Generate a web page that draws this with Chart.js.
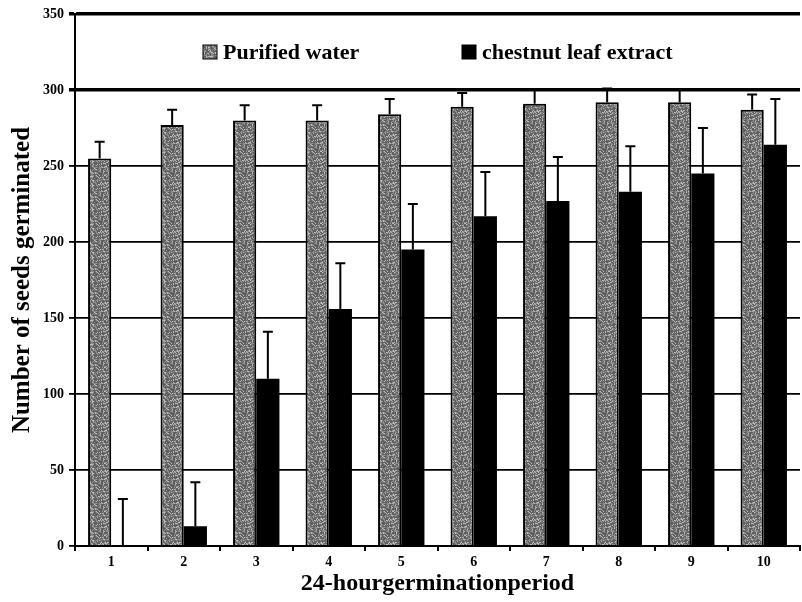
<!DOCTYPE html>
<html>
<head>
<meta charset="utf-8">
<script src="https://cdn.jsdelivr.net/npm/chart.js@4.4.1/dist/chart.umd.min.js"></script>
<style>
  html, body { margin: 0; padding: 0; background: #fff; }
  #wrap { width: 802px; height: 602px; position: relative; }
</style>
</head>
<body>
<div id="wrap"><canvas id="myChart"></canvas></div>
<script>
// data
const periods = ['1', '2', '3', '4', '5', '6', '7', '8', '9', '10'];
const waterValues = [255, 277, 280, 280, 284, 289, 291, 292, 292, 287];
const waterErrors = [11, 10, 10, 10, 10, 9, 9, 9, 8, 10];
const extractValues = [0, 13, 110, 156, 195, 217, 227, 233, 245, 264];
const extractErrors = [31, 29, 31, 30, 30, 29, 29, 30, 30, 30];
const seriesNames = ['Purified water', 'chestnut leaf extract'];
const yTicks = [0, 50, 100, 150, 200, 250, 300, 350];

const serif = "'Liberation Serif', 'Times New Roman', serif";

// speckled gray fill like the printed bars (fixed hash, not data)
function makeSpeckle() {
    const c = document.createElement('canvas');
    c.width = 24; c.height = 24;
    const g = c.getContext('2d');
    const img = g.createImageData(24, 24);
    for (let i = 0; i < 576; i++) {
        const h = Math.abs(Math.sin(i * 12.9898 + 78.233) * 43758.5453) % 1;
        const v = h < 0.5 ? 95 : (h < 0.82 ? 140 : 190);
        img.data[i * 4] = v;
        img.data[i * 4 + 1] = v;
        img.data[i * 4 + 2] = v;
        img.data[i * 4 + 3] = 255;
    }
    g.putImageData(img, 0, 0);
    return g.createPattern(c, 'repeat');
}

const ctx = document.getElementById('myChart').getContext('2d');
const speckle = makeSpeckle();
const errorSets = [waterErrors, extractErrors];

// upward-only error bars
const errorBars = {
    id: 'errorBars',
    afterDatasetsDraw(chart) {
        const c = chart.ctx;
        const y = chart.scales.y;
        c.save();
        c.strokeStyle = '#000';
        c.lineWidth = 2;
        chart.data.datasets.forEach((ds, di) => {
            const meta = chart.getDatasetMeta(di);
            meta.data.forEach((bar, i) => {
                const top = y.getPixelForValue(ds.data[i] + errorSets[di][i]);
                c.beginPath();
                c.moveTo(bar.x, bar.y);
                c.lineTo(bar.x, top);
                c.moveTo(bar.x - 5, top);
                c.lineTo(bar.x + 5, top);
                c.stroke();
            });
        });
        c.restore();
    }
};

// legend sitting in the 300-350 band
const bandLegend = {
    id: 'bandLegend',
    afterDraw(chart) {
        const c = chart.ctx;
        const area = chart.chartArea;
        const yc = chart.scales.y.getPixelForValue(325);
        const items = [
            { x: area.left + 128, fill: speckle, label: seriesNames[0] },
            { x: area.left + 387, fill: '#000', label: seriesNames[1] }
        ];
        c.save();
        c.font = 'bold 22px ' + serif;
        c.textBaseline = 'middle';
        items.forEach(it => {
            c.fillStyle = it.fill;
            c.fillRect(it.x, yc - 7, 14, 14);
            c.strokeStyle = '#000';
            c.lineWidth = 1;
            c.strokeRect(it.x, yc - 7, 14, 14);
            c.fillStyle = '#000';
            c.fillText(it.label, it.x + 20, yc + 1);
        });
        c.restore();
    }
};

new Chart(ctx, {
    type: 'bar',
    data: {
        labels: periods,
        datasets: [
            {
                label: seriesNames[0],
                data: waterValues,
                backgroundColor: speckle,
                borderColor: '#000',
                borderWidth: 2,
                borderSkipped: 'bottom',
                categoryPercentage: 0.64,
                barPercentage: 1
            },
            {
                label: seriesNames[1],
                data: extractValues,
                backgroundColor: '#000',
                borderColor: '#000',
                borderWidth: 0,
                categoryPercentage: 0.64,
                barPercentage: 1
            }
        ]
    },
    options: {
        responsive: true,
        maintainAspectRatio: false,
        animation: false,
        layout: { padding: { top: 14, right: 2, left: 0, bottom: 0 } },
        plugins: {
            legend: { display: false },
            tooltip: { enabled: false }
        },
        scales: {
            x: {
                offset: true,
                grid: {
                    offset: true,
                    drawOnChartArea: false,
                    drawTicks: true,
                    tickLength: 5,
                    color: '#000',
                    lineWidth: 2
                },
                border: { color: '#000', width: 2 },
                ticks: {
                    color: '#000',
                    font: { family: serif, size: 14, weight: 'bold' },
                    padding: 3
                },
                title: {
                    display: true,
                    text: '24-hourgerminationperiod',
                    color: '#000',
                    font: { family: serif, size: 24, weight: 'bold' },
                    padding: { top: 0, bottom: 4 }
                },
                afterFit(scale) { scale.height = 56; }
            },
            y: {
                min: 0,
                max: 350,
                afterBuildTicks(scale) { scale.ticks = yTicks.map(v => ({ value: v })); },
                grid: {
                    color: '#000',
                    lineWidth: c => (c.tick && c.tick.value >= 300 ? 3.5 : 1.8),
                    tickLength: 6
                },
                border: { color: '#000', width: 2 },
                ticks: {
                    color: '#000',
                    font: { family: serif, size: 14, weight: 'bold' },
                    padding: 5
                },
                title: {
                    display: true,
                    text: 'Number of seeds germinated',
                    color: '#000',
                    font: { family: serif, size: 25, weight: 'bold' },
                    padding: { top: 8, bottom: 0 }
                },
                afterFit(scale) { scale.width = 75; }
            }
        }
    },
    plugins: [errorBars, bandLegend]
});
</script>
</body>
</html>
